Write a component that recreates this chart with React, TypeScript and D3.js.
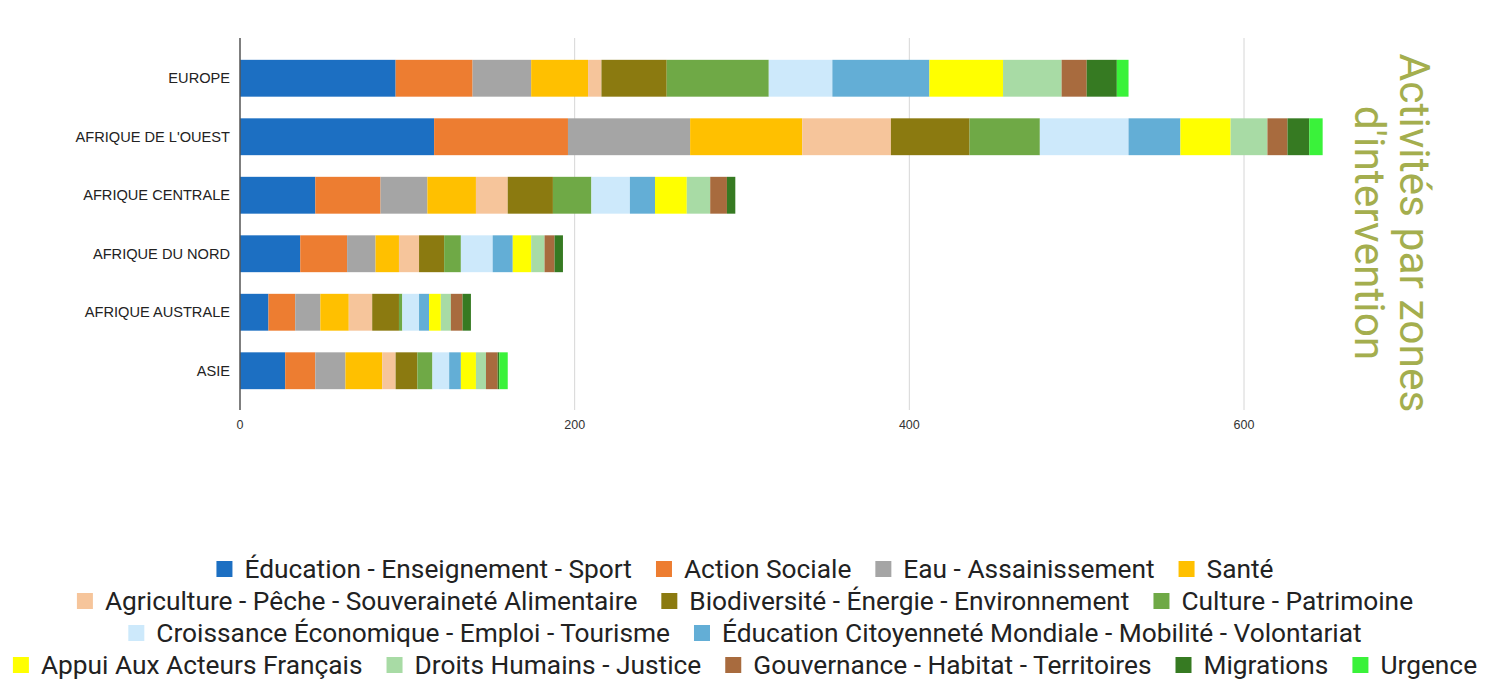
import React, { useEffect, useRef } from "react";
import * as d3 from "d3";

const categories = ["EUROPE", "AFRIQUE DE L'OUEST", "AFRIQUE CENTRALE", "AFRIQUE DU NORD", "AFRIQUE AUSTRALE", "ASIE"];

const seriesNames = [
  "Éducation - Enseignement - Sport",
  "Action Sociale",
  "Eau - Assainissement",
  "Santé",
  "Agriculture - Pêche - Souveraineté Alimentaire",
  "Biodiversité - Énergie - Environnement",
  "Culture - Patrimoine",
  "Croissance Économique - Emploi - Tourisme",
  "Éducation Citoyenneté Mondiale - Mobilité - Volontariat",
  "Appui Aux Acteurs Français",
  "Droits Humains - Justice",
  "Gouvernance - Habitat - Territoires",
  "Migrations",
  "Urgence",
];

const seriesColors = [
  "#1c6fc2", "#ed7d31", "#a5a5a5", "#ffc000", "#f6c59b", "#8b7a10", "#6fa946",
  "#cde9fb", "#63aed6", "#ffff00", "#a8dba5", "#a86b3e", "#367a22", "#3af23a",
];

// values per category, in series order
const europe = [93, 46, 35, 34, 8, 39, 61, 38, 58, 44, 35, 15, 18, 7];
const afriqueOuest = [116, 80, 73, 67, 53, 47, 42, 53, 31, 30, 22, 12, 13, 8];
const afriqueCentrale = [45, 39, 28, 29, 19, 27, 23, 23, 15, 19, 14, 10, 5, 0];
const afriqueNord = [36, 28, 17, 14, 12, 15, 10, 19, 12, 11, 8, 6, 5, 0];
const afriqueAustrale = [17, 16, 15, 17, 14, 16, 2, 10, 6, 7, 6, 7, 5, 0];
const asie = [27, 18, 18, 22, 8, 13, 9, 10, 7, 9, 6, 7, 1, 5];
const values = [europe, afriqueOuest, afriqueCentrale, afriqueNord, afriqueAustrale, asie];

const xTicks = [0, 200, 400, 600];

const legendRows = [[0, 1, 2, 3], [4, 5, 6], [7, 8], [9, 10, 11, 12, 13]];

const titleLines = ["Activités par zones", "d'intervention"];

export default function App() {
  const ref = useRef<SVGSVGElement>(null);

  useEffect(() => {
    const svg = d3.select(ref.current);
    svg.selectAll("*").remove();

    const x = d3.scaleLinear().domain([0, 600]).range([240, 1244]);
    const y = d3.scaleBand().domain(categories).range([49, 400]).paddingInner(0.37).paddingOuter(0.185);

    // gridlines
    svg.append("g").selectAll("line").data(xTicks.filter((t) => t !== 0)).join("line")
      .attr("x1", (d) => x(d)).attr("x2", (d) => x(d))
      .attr("y1", 38).attr("y2", 410)
      .attr("stroke", "#d6d6d6").attr("stroke-width", 1);

    // stacked bars
    const rows = categories.map((c, i) => {
      const o: any = { cat: c };
      seriesNames.forEach((s, j) => (o[s] = values[i][j]));
      return o;
    });
    const stacked = d3.stack().keys(seriesNames)(rows);
    svg.append("g").selectAll("g").data(stacked).join("g")
      .attr("fill", (_d, i) => seriesColors[i])
      .selectAll("rect").data((d) => d).join("rect")
      .attr("x", (d) => x(d[0]))
      .attr("width", (d) => Math.max(0, x(d[1]) - x(d[0])))
      .attr("y", (d: any) => y(d.data.cat)!)
      .attr("height", y.bandwidth());

    // axis line
    svg.append("line").attr("x1", 240).attr("x2", 240).attr("y1", 38).attr("y2", 410)
      .attr("stroke", "#555").attr("stroke-width", 1.5);

    // category labels
    svg.append("g").selectAll("text").data(categories).join("text")
      .attr("x", 230).attr("y", (d) => y(d)! + y.bandwidth() / 2)
      .attr("text-anchor", "end").attr("dominant-baseline", "central")
      .attr("font-family", "'Liberation Sans', Arial, sans-serif")
      .attr("font-size", 14.6)
      .attr("fill", "#222")
      .text((d) => d);

    // x tick labels
    svg.append("g").selectAll("text").data(xTicks).join("text")
      .attr("x", (d) => x(d)).attr("y", 425)
      .attr("text-anchor", "middle").attr("dominant-baseline", "central")
      .attr("font-family", "'Liberation Sans', Arial, sans-serif")
      .attr("font-size", 12.5).attr("fill", "#333")
      .text((d) => String(d));

    // right title
    const tg = svg.append("g").attr("transform", "translate(1400,233) rotate(90)");
    tg.selectAll("text").data(titleLines).join("text")
      .attr("x", 0).attr("y", (_d, i) => i * 45)
      .attr("text-anchor", "middle")
      .attr("font-family", "Roboto, sans-serif")
      .attr("font-size", 42.5).attr("fill", "#a4ae4e")
      .text((d) => d);

    // legend
    const cx = 745;
    const fs = 26.3;
    const sq = 16;
    const gapSq = 12;
    const gapItem = 24;
    legendRows.forEach((row, ri) => {
      const yy = 569 + ri * 32;
      const g = svg.append("g");
      const items = row.map((si) => {
        const t = g.append("text")
          .attr("font-family", "Roboto, sans-serif")
          .attr("font-size", fs).attr("fill", "#222")
          .attr("dominant-baseline", "central")
          .attr("y", yy)
          .text(seriesNames[si]);
        const w = (t.node() as SVGTextElement).getComputedTextLength();
        return { si, t, w };
      });
      const total = items.reduce((a, it) => a + sq + gapSq + it.w, 0) + gapItem * (items.length - 1);
      let xx = cx - total / 2;
      items.forEach((it) => {
        g.append("rect").attr("x", xx).attr("y", yy - sq / 2).attr("width", sq).attr("height", sq)
          .attr("fill", seriesColors[it.si]);
        it.t.attr("x", xx + sq + gapSq);
        xx += sq + gapSq + it.w + gapItem;
      });
    });
  }, []);

  return (
    <svg ref={ref} width={1500} height={680} style={{ position: "absolute", left: 0, top: 0, background: "#fff" }} />
  );
}
